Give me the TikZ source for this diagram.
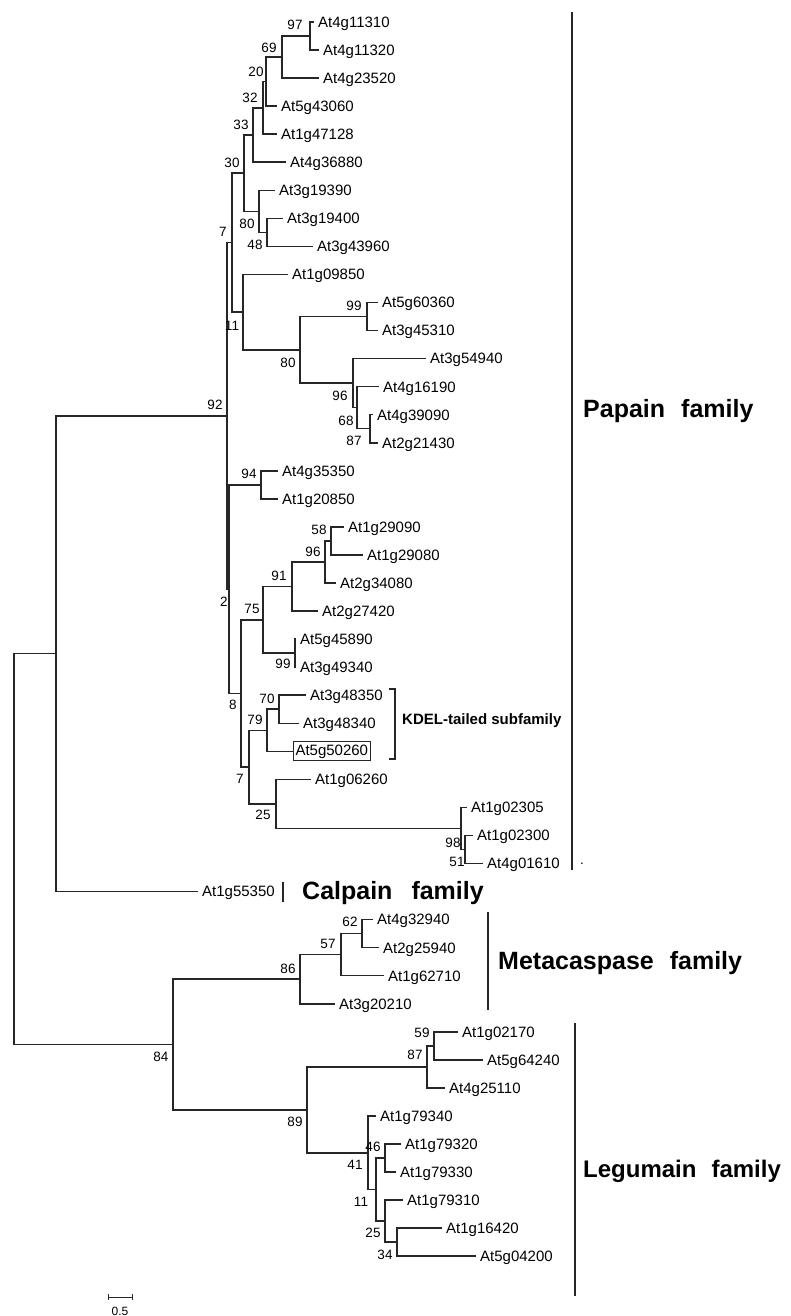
\documentclass[tikz,border=0pt]{standalone}
\usepackage{fontspec}
\setmainfont{Liberation Sans}
\begin{document}
\begin{tikzpicture}[x=1pt, y=-1pt,
  br/.style={draw=black!85, line width=1.5pt},
  leaf/.style={anchor=west, inner xsep=4pt, inner ysep=0pt, text height=10.7pt, text depth=0pt, font=\fontsize{15}{18}\selectfont},
  bs/.style={inner sep=0pt, font=\fontsize{13.5}{16}\selectfont},
  fam/.style={anchor=base west, inner sep=0pt, font=\fontsize{25}{30}\selectfont\bfseries},
  famline/.style={draw=black!85, line width=1.6pt}]
\useasboundingbox (0,0) rectangle (790,1316);

% leaves
\node[leaf] (l0) at (314,22) {At4g11310};
\node[leaf] (l1) at (319,50.05) {At4g11320};
\node[leaf] (l2) at (319,78.1) {At4g23520};
\node[leaf] (l3) at (277,106.15) {At5g43060};
\node[leaf] (l4) at (277,134.2) {At1g47128};
\node[leaf] (l5) at (286,162.25) {At4g36880};
\node[leaf] (l6) at (275,190.3) {At3g19390};
\node[leaf] (l7) at (283,218.35) {At3g19400};
\node[leaf] (l8) at (313,246.4) {At3g43960};
\node[leaf] (l9) at (288,274.45) {At1g09850};
\node[leaf] (l10) at (378,302.5) {At5g60360};
\node[leaf] (l11) at (378,330.55) {At3g45310};
\node[leaf] (l12) at (426,358.6) {At3g54940};
\node[leaf] (l13) at (379,386.65) {At4g16190};
\node[leaf] (l14) at (373,414.7) {At4g39090};
\node[leaf] (l15) at (378,442.75) {At2g21430};
\node[leaf] (l16) at (278,470.8) {At4g35350};
\node[leaf] (l17) at (278,498.85) {At1g20850};
\node[leaf] (l18) at (344,526.9) {At1g29090};
\node[leaf] (l19) at (363,554.95) {At1g29080};
\node[leaf] (l20) at (336,583) {At2g34080};
\node[leaf] (l21) at (318,611.05) {At2g27420};
\node[leaf] (l22) at (296,639.1) {At5g45890};
\node[leaf] (l23) at (296,667.15) {At3g49340};
\node[leaf] (l24) at (306,695.2) {At3g48350};
\node[leaf] (l25) at (299,723.25) {At3g48340};
\node[leaf, draw=black!85, line width=1pt, inner xsep=2pt, inner ysep=2.5pt, text depth=3.2pt] (l26) at (293,751.3) {At5g50260};
\node[leaf] (l27) at (311,779.35) {At1g06260};
\node[leaf] (l28) at (467,807.4) {At1g02305};
\node[leaf] (l29) at (473,835.45) {At1g02300};
\node[leaf] (l30) at (483,863.5) {At4g01610};
\node[leaf] (l31) at (198,891.55) {At1g55350};
\node[leaf] (l32) at (373,919.6) {At4g32940};
\node[leaf] (l33) at (379,947.65) {At2g25940};
\node[leaf] (l34) at (384,975.7) {At1g62710};
\node[leaf] (l35) at (335,1003.75) {At3g20210};
\node[leaf] (l36) at (458,1031.8) {At1g02170};
\node[leaf] (l37) at (483,1059.85) {At5g64240};
\node[leaf] (l38) at (445,1087.9) {At4g25110};
\node[leaf] (l39) at (376,1115.95) {At1g79340};
\node[leaf] (l40) at (401,1144) {At1g79320};
\node[leaf] (l41) at (396,1172.05) {At1g79330};
\node[leaf] (l42) at (403,1200.1) {At1g79310};
\node[leaf] (l43) at (442,1228.15) {At1g16420};
\node[leaf] (l44) at (476,1256.2) {At5g04200};

% internal nodes
\coordinate (n97) at (310,36.03);
\coordinate (n69) at (282,57.06);
\coordinate (n20) at (266,81.61);
\coordinate (n32) at (263,107.9);
\coordinate (n33) at (253,135.08);
\coordinate (n48) at (267,232.38);
\coordinate (n80a) at (259,211.34);
\coordinate (n30) at (244,173.21);
\coordinate (n99a) at (367,316.53);
\coordinate (n87a) at (370,428.73);
\coordinate (n68) at (357,407.69);
\coordinate (n96a) at (353,383.14);
\coordinate (n80b) at (300,349.84);
\coordinate (n11a) at (243,312.14);
\coordinate (n7a) at (232,242.68);
\coordinate (n94) at (261,484.83);
\coordinate (n58) at (331,540.93);
\coordinate (n96b) at (325,561.96);
\coordinate (n91) at (292,586.51);
\coordinate (n99b) at (295,653.13);
\coordinate (n75) at (263,619.82);
\coordinate (n70) at (279,709.23);
\coordinate (n79) at (267,730.26);
\coordinate (n51) at (465,849.48);
\coordinate (n98) at (461,828.44);
\coordinate (n25a) at (276,803.9);
\coordinate (n7b) at (249,767.08);
\coordinate (n8) at (241,693.45);
\coordinate (n2) at (229,589.14);
\coordinate (n92) at (227,415.91);
\coordinate (ncal) at (56,653.73);
\coordinate (n62) at (362,933.63);
\coordinate (n57) at (341,954.66);
\coordinate (n86) at (300,979.21);
\coordinate (n59) at (434,1045.83);
\coordinate (n87b) at (427,1066.86);
\coordinate (n46) at (385,1158.03);
\coordinate (n34) at (397,1242.18);
\coordinate (n25b) at (385,1221.14);
\coordinate (n11b) at (376,1189.58);
\coordinate (n41) at (368,1152.77);
\coordinate (n89) at (307,1109.81);
\coordinate (n84) at (173,1044.51);
\coordinate (root) at (14,849.12);

% branches
\foreach \p/\c in {root/ncal, root/n84, ncal/n92, ncal/l31, n92/n7a, n92/n2,
  n7a/n30, n7a/n11a, n30/n33, n30/n80a, n33/n32, n33/l5, n32/n20, n32/l4,
  n20/n69, n20/l3, n69/n97, n69/l2, n97/l0, n97/l1, n80a/l6, n80a/n48,
  n48/l7, n48/l8, n11a/l9, n11a/n80b, n80b/n99a, n80b/n96a, n99a/l10, n99a/l11,
  n96a/l12, n96a/n68, n68/l13, n68/n87a, n87a/l14, n87a/l15,
  n2/n94, n2/n8, n94/l16, n94/l17, n8/n75, n8/n7b, n75/n91, n75/n99b,
  n91/n96b, n91/l21, n96b/n58, n96b/l20, n58/l18, n58/l19, n99b/l22, n99b/l23,
  n7b/n79, n7b/n25a, n79/n70, n79/l26, n70/l24, n70/l25, n25a/l27, n25a/n98,
  n98/l28, n98/n51, n51/l29, n51/l30,
  n84/n86, n84/n89, n86/n57, n86/l35, n57/n62, n57/l34, n62/l32, n62/l33,
  n89/n87b, n89/n41, n87b/n59, n87b/l38, n59/l36, n59/l37, n41/l39, n41/n11b,
  n11b/n46, n11b/n25b, n46/l40, n46/l41, n25b/l42, n25b/n34, n34/l43, n34/l44}
  \draw[br] (\p) |- (\c);

% bootstrap values
\foreach \x/\y/\v [count=\i] in {295/25/97, 269/48/69, 256/72/20, 250/98/32, 241/125/33,
  232/163/30, 247/224/80, 255/245/48, 223/232/7, 232/326/11, 354/306/99, 288/363/80,
  340/396/96, 346/421/68, 354/441/87, 215/405/92, 249/474/94, 319/530/58, 313/552/96,
  279/576/91, 252/609/75, 224/602/2, 283/664/99, 233/705/8, 267/699/70, 255/720/79,
  240/779/7, 263/815/25, 453/843/98, 457/862/51, 350/922/62, 328/944/57, 288/969/86,
  161/1057/84, 422/1033/59, 415/1055/87, 295/1122/89, 373/1147/46, 355/1165/41,
  361/1202/11, 373/1233/25, 385/1255/34}
  \node[bs] (b\i) at (\x,\y) {\v};
\node[bs] (dot) at (582,864) {.};

% families
\draw[famline] (572,12) -- (572,870);
\draw[famline] (283,882) -- (283,902);
\draw[famline] (488,912) -- (488,1010);
\draw[famline] (575,1023) -- (575,1296);
\draw[br] (389,689) -- (395,689) -- (395,759) -- (389,759);
\node[fam] (papain) at (583,417) {Papain\hskip16pt family};
\node[fam] (calpain) at (302,899) {Calpain\hskip19pt family};
\node[fam] (meta) at (498,969) {Metacaspase\hskip16pt family};
\node[fam, font=\fontsize{24}{29}\selectfont\bfseries] (legumain) at (583,1177) {Legumain\hskip15pt family};
\node[anchor=base west, inner sep=0pt, font=\fontsize{15}{18}\selectfont\bfseries] (kdel) at (402,724.5) {KDEL-tailed subfamily};

% scale
\draw[br, line width=1pt] (108,1294) -- (108,1300) (108,1297) -- (132,1297) (132,1294) -- (132,1300);
\node[bs, font=\fontsize{12}{14}\selectfont] (scale) at (120,1311) {0.5};
\end{tikzpicture}
\end{document}
